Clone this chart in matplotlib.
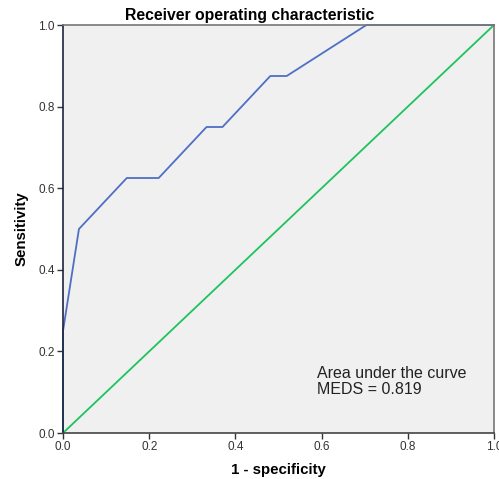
import matplotlib.pyplot as plt

plt.rcParams['font.family'] = ['Liberation Sans', 'DejaVu Sans']

# ROC curve points (1 - specificity, sensitivity)
fpr = [0.0, 0.0, 0.037, 0.148, 0.222, 0.333, 0.370, 0.481, 0.519, 0.704, 1.0]
tpr = [0.0, 0.25, 0.5, 0.625, 0.625, 0.75, 0.75, 0.875, 0.875, 1.0, 1.0]
ref_line = [0.0, 1.0]
ticks = [0.0, 0.2, 0.4, 0.6, 0.8, 1.0]
auc_text = "Area under the curve\nMEDS = 0.819"

fig = plt.figure(figsize=(4.99, 4.79), dpi=100)
ax = fig.add_axes([63 / 499, 46 / 479, 431 / 499, 408 / 479])
ax.set_facecolor('#f0f0f0')

ax.plot(ref_line, ref_line, color='#1ec35e', linewidth=1.3, clip_on=False)
ax.plot(fpr, tpr, color='#4f6fc4', linewidth=1.3, clip_on=False)

ax.set_xlim(0, 1)
ax.set_ylim(0, 1)
ax.set_xticks(ticks)
ax.set_yticks(ticks)
ax.set_xticklabels([f"{t:.1f}" for t in ticks])
ax.set_yticklabels([f"{t:.1f}" for t in ticks])
ax.tick_params(direction='out', length=4, width=1, labelsize=8.5, colors='#333333', pad=2)

for side in ['top', 'right']:
    ax.spines[side].set_color('#777777')
ax.spines['left'].set_color('#1a2540')
ax.spines['bottom'].set_color('#444444')
for s in ax.spines.values():
    s.set_linewidth(1.2)

ax.text(0.589, 0.163, auc_text, fontsize=11.5, va='top', ha='left', color='#222222',
        linespacing=1.05)

ax.set_xlabel("1 - specificity", fontsize=10.8, fontweight='bold', labelpad=7)
ax.set_ylabel("Sensitivity", fontsize=10.8, fontweight='bold', labelpad=7)
fig.text(0.5, 0.968, "Receiver operating characteristic", fontsize=11.3,
         fontweight='bold', ha='center', va='center')

fig.savefig("out.png", dpi=100)
